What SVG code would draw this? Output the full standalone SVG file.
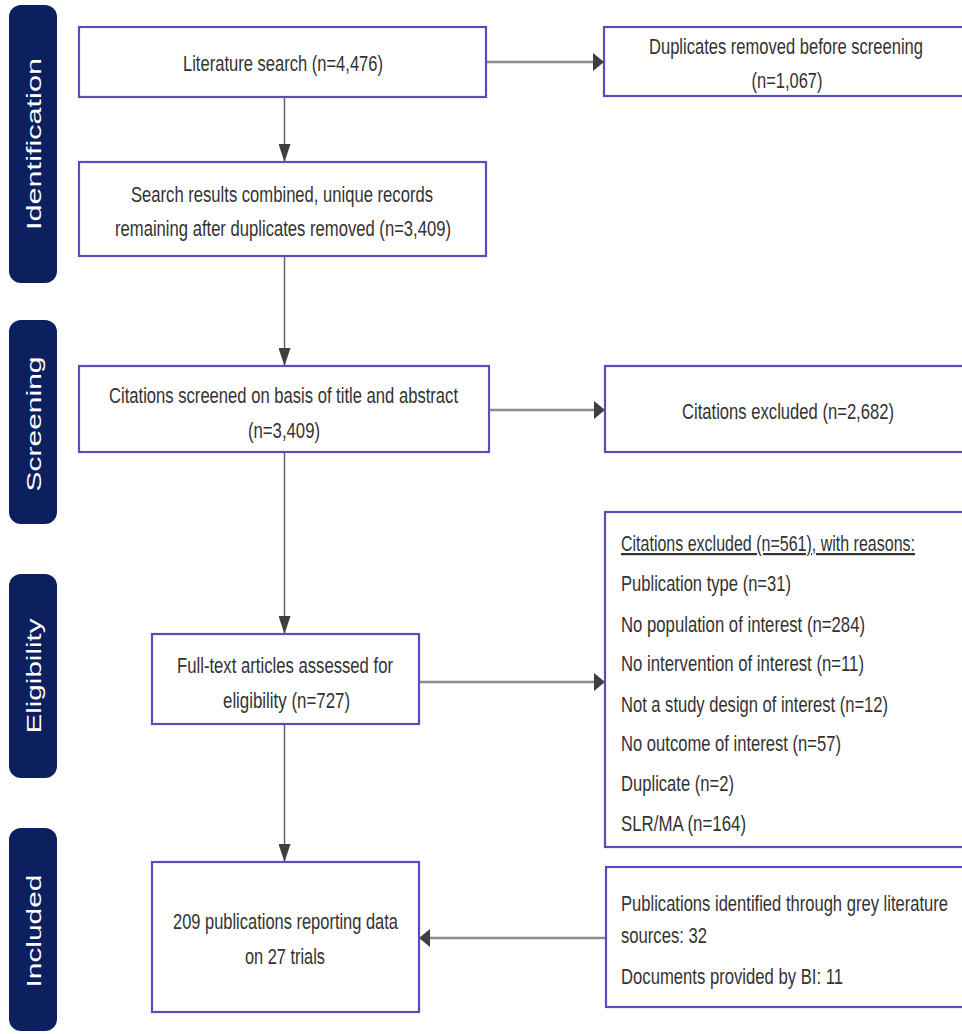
<svg xmlns="http://www.w3.org/2000/svg" width="962" height="1034" viewBox="0 0 962 1034">
<style>
.bg{fill:#ffffff}
.side{fill:#0c1f5f}
.stext{font-family:"Liberation Sans",Arial,sans-serif;font-size:20px;fill:#ffffff;text-anchor:middle}
.box{fill:#ffffff;stroke:#5b4db9;stroke-width:2.2}
.t{font-family:"Liberation Sans Narrow","Liberation Sans",Arial,sans-serif;font-size:22px;fill:#333333}
.c{text-anchor:middle}
.vline{stroke:#666666;stroke-width:1.5;fill:none}
.hline{stroke:#8c8c8c;stroke-width:2.5;fill:none}
.ah{fill:#3f3f3f}
</style>
<defs>
<marker id="arrV" markerUnits="userSpaceOnUse" markerWidth="18" markerHeight="12" refX="18" refY="6" orient="auto">
<path class="ah" d="M0,0 L18,6 L0,12 Z"/>
</marker>
<marker id="arrH" markerUnits="userSpaceOnUse" markerWidth="11" markerHeight="18" refX="11" refY="9" orient="auto">
<path class="ah" d="M0,0 L11,9 L0,18 Z"/>
</marker>
</defs>
<rect class="bg" x="0" y="0" width="962" height="1034"/>

<g id="phase-identification">
<rect class="side" x="9" y="5" width="48" height="278" rx="12" ry="12"/>
<text class="stext" transform="translate(41,144) rotate(-90)" x="0" y="0" textLength="172" lengthAdjust="spacingAndGlyphs">Identification</text>
</g>
<g id="phase-screening">
<rect class="side" x="9" y="320" width="48" height="204" rx="12" ry="12"/>
<text class="stext" transform="translate(41,424) rotate(-90)" x="0" y="0" textLength="135" lengthAdjust="spacingAndGlyphs">Screening</text>
</g>
<g id="phase-eligibility">
<rect class="side" x="9" y="574" width="48" height="204" rx="12" ry="12"/>
<text class="stext" transform="translate(41,676) rotate(-90)" x="0" y="0" textLength="115" lengthAdjust="spacingAndGlyphs">Eligibility</text>
</g>
<g id="phase-included">
<rect class="side" x="9" y="828" width="48" height="203" rx="12" ry="12"/>
<text class="stext" transform="translate(41,931) rotate(-90)" x="0" y="0" textLength="113" lengthAdjust="spacingAndGlyphs">Included</text>
</g>

<g id="connectors">
<line class="vline" x1="284.5" y1="97" x2="284.5" y2="162" marker-end="url(#arrV)"/>
<line class="hline" x1="486" y1="62" x2="604" y2="62" marker-end="url(#arrH)"/>
<line class="vline" x1="284.5" y1="256" x2="284.5" y2="366" marker-end="url(#arrV)"/>
<line class="hline" x1="489" y1="410" x2="605" y2="410" marker-end="url(#arrH)"/>
<line class="vline" x1="284.5" y1="452" x2="284.5" y2="634" marker-end="url(#arrV)"/>
<line class="hline" x1="419" y1="682" x2="605" y2="682" marker-end="url(#arrH)"/>
<line class="vline" x1="284.5" y1="724" x2="284.5" y2="862" marker-end="url(#arrV)"/>
<line class="hline" x1="606" y1="938" x2="419" y2="938" marker-end="url(#arrH)"/>
</g>

<g id="literature-search">
<rect class="box" x="79" y="27" width="407" height="70"/>
<text class="t c" x="283" y="71" textLength="200" lengthAdjust="spacingAndGlyphs">Literature search (n=4,476)</text>
</g>
<g id="duplicates-removed">
<rect class="box" x="604" y="27" width="366" height="69"/>
<text class="t c" x="786" y="54" textLength="274" lengthAdjust="spacingAndGlyphs">Duplicates removed before screening</text>
<text class="t c" x="787" y="88" textLength="71" lengthAdjust="spacingAndGlyphs">(n=1,067)</text>
</g>
<g id="unique-records">
<rect class="box" x="79" y="162" width="407" height="94"/>
<text class="t c" x="282" y="202" textLength="302" lengthAdjust="spacingAndGlyphs">Search results combined, unique records</text>
<text class="t c" x="283" y="236" textLength="336" lengthAdjust="spacingAndGlyphs">remaining after duplicates removed (n=3,409)</text>
</g>
<g id="citations-screened">
<rect class="box" x="79" y="366" width="410" height="86"/>
<text class="t c" x="283.5" y="403" textLength="349" lengthAdjust="spacingAndGlyphs">Citations screened on basis of title and abstract</text>
<text class="t c" x="284" y="438" textLength="72" lengthAdjust="spacingAndGlyphs">(n=3,409)</text>
</g>
<g id="citations-excluded">
<rect class="box" x="605" y="366" width="366" height="86"/>
<text class="t c" x="788" y="419" textLength="212" lengthAdjust="spacingAndGlyphs">Citations excluded (n=2,682)</text>
</g>
<g id="full-text">
<rect class="box" x="152" y="634" width="267" height="90"/>
<text class="t c" x="285" y="673" textLength="216" lengthAdjust="spacingAndGlyphs">Full-text articles assessed for</text>
<text class="t c" x="286.5" y="708" textLength="127" lengthAdjust="spacingAndGlyphs">eligibility (n=727)</text>
</g>
<g id="exclusion-reasons">
<rect class="box" x="605" y="512" width="366" height="335"/>
<text class="t" x="621" y="551" textLength="294" lengthAdjust="spacingAndGlyphs" style="text-decoration:underline">Citations excluded (n=561), with reasons:</text>
<text class="t" x="621" y="591" textLength="170" lengthAdjust="spacingAndGlyphs">Publication type (n=31)</text>
<text class="t" x="621" y="632" textLength="244" lengthAdjust="spacingAndGlyphs">No population of interest (n=284)</text>
<text class="t" x="621" y="671" textLength="243" lengthAdjust="spacingAndGlyphs">No intervention of interest (n=11)</text>
<text class="t" x="621" y="712" textLength="267" lengthAdjust="spacingAndGlyphs">Not a study design of interest (n=12)</text>
<text class="t" x="621" y="751" textLength="220" lengthAdjust="spacingAndGlyphs">No outcome of interest (n=57)</text>
<text class="t" x="621" y="791" textLength="113" lengthAdjust="spacingAndGlyphs">Duplicate (n=2)</text>
<text class="t" x="621" y="831" textLength="125" lengthAdjust="spacingAndGlyphs">SLR/MA (n=164)</text>
</g>
<g id="included">
<rect class="box" x="152" y="862" width="267" height="150"/>
<text class="t c" x="285.5" y="929" textLength="225" lengthAdjust="spacingAndGlyphs">209 publications reporting data</text>
<text class="t c" x="285" y="964" textLength="80" lengthAdjust="spacingAndGlyphs">on 27 trials</text>
</g>
<g id="grey-literature">
<rect class="box" x="606" y="867" width="366" height="140"/>
<text class="t" x="621" y="911" textLength="327" lengthAdjust="spacingAndGlyphs">Publications identified through grey literature</text>
<text class="t" x="621" y="943" textLength="86" lengthAdjust="spacingAndGlyphs">sources: 32</text>
<text class="t" x="621" y="984" textLength="222" lengthAdjust="spacingAndGlyphs">Documents provided by BI: 11</text>
</g>
</svg>
